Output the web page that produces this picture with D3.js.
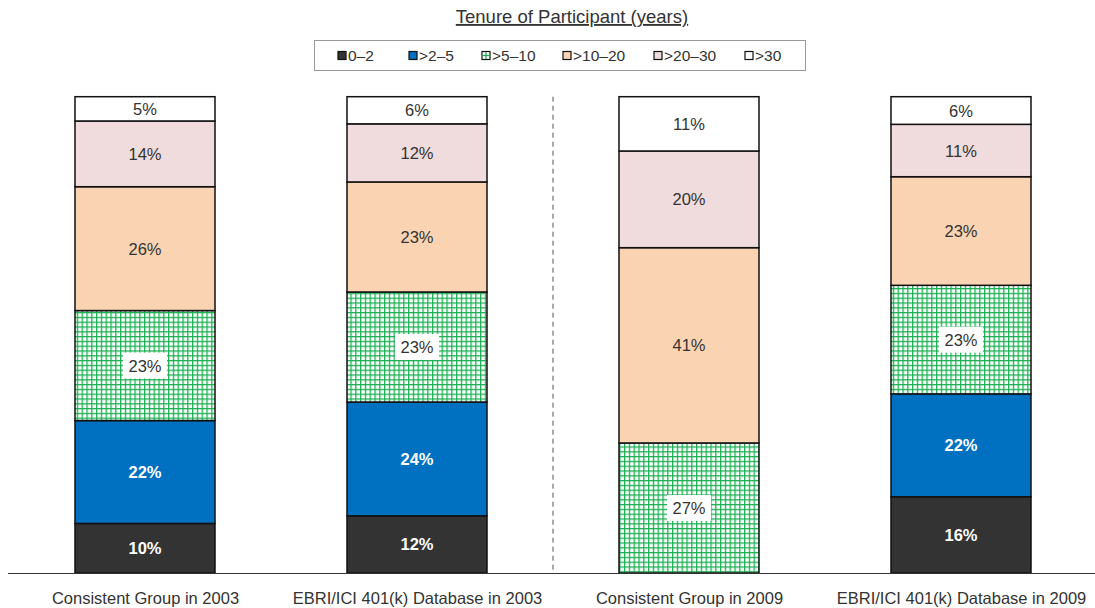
<!DOCTYPE html>
<html>
<head>
<meta charset="utf-8">
<script src="https://cdn.jsdelivr.net/npm/d3@7"></script>
<style>
  html, body { margin: 0; padding: 0; background: #fff; }
  svg { display: block; font-family: "Liberation Sans", Arial, Helvetica, sans-serif; }
</style>
</head>
<body>
<svg id="chart" width="1095" height="608"></svg>
<script>
const categories = ["Consistent Group in 2003", "EBRI/ICI 401(k) Database in 2003", "Consistent Group in 2009", "EBRI/ICI 401(k) Database in 2009"];
const seriesNames = ["0\u20132", ">2\u20135", ">5\u201310", ">10\u201320", ">20\u201330", ">30"];
const s0_2    = [10.4, 12.0, 0,    16.0];
const s2_5    = [21.6, 23.9, 0,    21.6];
const s5_10   = [23.1, 23.1, 27.3, 22.8];
const s10_20  = [26.0, 23.1, 41.0, 22.8];
const s20_30  = [13.8, 12.2, 20.3, 11.0];
const s30     = [5.1,  5.7,  11.4, 5.8];
const title = "Tenure of Participant (years)";

const seriesValues = [s0_2, s2_5, s5_10, s10_20, s20_30, s30];
const fills = ["#333333", "#0070C0", "url(#grid)", "#FAD4B2", "#F0DCDC", "#FFFFFF"];
const labelStyles = ["white-bold", "white-bold", "boxed", "plain", "plain", "plain"];

const svg = d3.select("#chart");
const defs = svg.append("defs");
const pat = defs.append("pattern").attr("id", "grid").attr("patternUnits", "userSpaceOnUse")
  .attr("width", 4.8).attr("height", 4.8);
pat.append("rect").attr("width", 4.8).attr("height", 4.8).attr("fill", "#fff");
pat.append("rect").attr("x", 0).attr("y", 0).attr("width", 1.3).attr("height", 4.8).attr("fill", "#1FB055");
pat.append("rect").attr("x", 0).attr("y", 0).attr("width", 4.8).attr("height", 1.3).attr("fill", "#1FB055");

const table = categories.map((c, i) => {
  const row = { cat: c };
  seriesNames.forEach((s, j) => row[s] = seriesValues[j][i]);
  return row;
});
const stacked = d3.stack().keys(seriesNames)(table);

const x = d3.scalePoint().domain(categories).range([9, 1097]).padding(0.5);
const y = d3.scaleLinear().domain([0, 100]).range([573, 96.7]);
const barW = 140;

// dashed separator
svg.append("line")
  .attr("x1", (x(categories[1]) + x(categories[2])) / 2)
  .attr("x2", (x(categories[1]) + x(categories[2])) / 2)
  .attr("y1", y(100)).attr("y2", y(0))
  .attr("stroke", "#555").attr("stroke-width", 1).attr("stroke-dasharray", "5,4");

// bars
stacked.forEach((layer, j) => {
  const g = svg.append("g");
  layer.forEach((d, i) => {
    if (d[1] - d[0] <= 0) return;
    g.append("rect")
      .attr("x", x(categories[i]) - barW / 2)
      .attr("y", y(d[1]))
      .attr("width", barW)
      .attr("height", y(d[0]) - y(d[1]))
      .attr("fill", fills[j])
      .attr("stroke", "#111").attr("stroke-width", 1.5);
  });
});

// labels
stacked.forEach((layer, j) => {
  layer.forEach((d, i) => {
    const v = d[1] - d[0];
    if (v <= 0) return;
    const cx = x(categories[i]);
    const cy = (y(d[0]) + y(d[1])) / 2;
    const txt = Math.round(v) + "%";
    const style = labelStyles[j];
    if (style === "boxed") {
      svg.append("rect").attr("x", cx - 22).attr("y", cy - 13).attr("width", 44).attr("height", 26).attr("fill", "#fff");
    }
    svg.append("text")
      .attr("x", cx).attr("y", cy)
      .attr("text-anchor", "middle").attr("dominant-baseline", "central")
      .attr("font-size", 16.5)
      .attr("font-weight", style === "white-bold" ? "bold" : "normal")
      .attr("fill", style === "white-bold" ? "#fff" : "#333")
      .text(txt);
  });
});

// baseline axis
const axis = d3.axisBottom(x).tickSize(0).tickPadding(19);
const ax = svg.append("g").attr("transform", `translate(0,${y(0)})`).call(axis);
ax.select(".domain").remove();
ax.selectAll("text").attr("font-size", 16.5).attr("fill", "#333").attr("font-family", "Liberation Sans, Arial, sans-serif");
svg.append("line").attr("x1", 8).attr("x2", 1095).attr("y1", y(0) + 0.5).attr("y2", y(0) + 0.5)
  .attr("stroke", "#333").attr("stroke-width", 1);

// title
svg.append("text").attr("x", 572).attr("y", 23).attr("text-anchor", "middle")
  .attr("font-size", 18.5).attr("fill", "#333").attr("text-decoration", "underline").text(title);

// legend
svg.append("rect").attr("x", 314.5).attr("y", 40.5).attr("width", 491).attr("height", 30)
  .attr("fill", "#fff").attr("stroke", "#999").attr("stroke-width", 1);
const legX = [342, 413, 486, 567, 658, 749];
const legFills = ["#333333", "#0070C0", "#fff", "#FAD4B2", "#F0DCDC", "#FFFFFF"];
seriesNames.forEach((s, j) => {
  const gx = legX[j];
  svg.append("rect").attr("x", gx - 4).attr("y", 51.5).attr("width", 8).attr("height", 8)
    .attr("fill", legFills[j]).attr("stroke", "#111").attr("stroke-width", 1.2);
  if (j === 2) {
    svg.append("line").attr("x1", gx).attr("x2", gx).attr("y1", 52).attr("y2", 59).attr("stroke", "#1FB055").attr("stroke-width", 1.3);
    svg.append("line").attr("x1", gx - 3.5).attr("x2", gx + 3.5).attr("y1", 55.5).attr("y2", 55.5).attr("stroke", "#1FB055").attr("stroke-width", 1.3);
  }
  svg.append("text").attr("x", gx + 6).attr("y", 55.5).attr("dominant-baseline", "central")
    .attr("font-size", 15.5).attr("fill", "#333").text(s);
});
</script>
</body>
</html>
